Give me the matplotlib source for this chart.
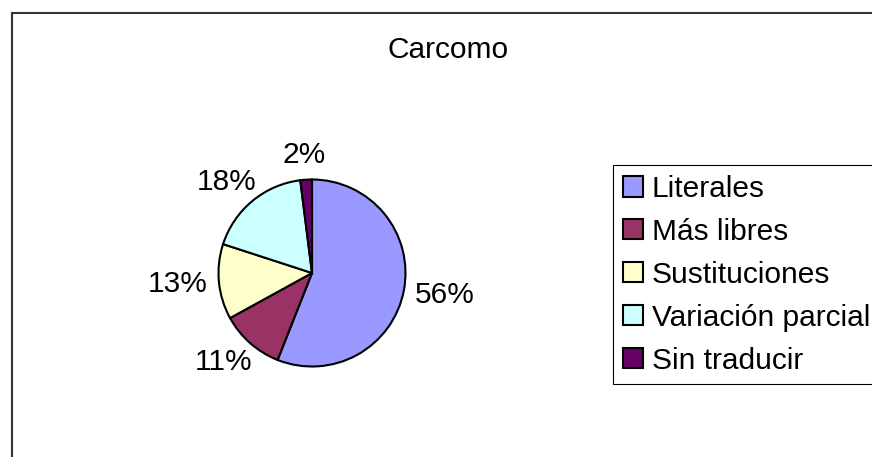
import numpy as np
import matplotlib
matplotlib.use("Agg")
import matplotlib.pyplot as plt
from matplotlib.patches import Rectangle

plt.rcParams['font.family'] = ['Liberation Sans', 'DejaVu Sans']

title = "Carcomo"
categories = ["Literales", "Más libres", "Sustituciones", "Variación parcial", "Sin traducir"]
values = [56, 11, 13, 18, 2]
colors = ["#9999FF", "#993366", "#FFFFCC", "#CCFFFF", "#660066"]

W, H, DPI = 872, 457, 100
fig = plt.figure(figsize=(W / DPI, H / DPI), dpi=DPI)
fig.patch.set_facecolor("white")

# chart frame (extends past right and bottom edges)
fig.add_artist(Rectangle((11.5 / W, -0.1), 1.2, (1 - 13 / H) + 0.1,
                         transform=fig.transFigure, fill=False,
                         edgecolor="#333333", lw=1.5))

# pie axes
R_px = 93.5
cx, cy = 312, 273
lim = 1.25
side = 2 * lim * R_px
ax = fig.add_axes([(cx - side / 2) / W, (H - cy - side / 2) / H, side / W, side / H])
ax.set_xlim(-lim, lim)
ax.set_ylim(-lim, lim)
ax.set_aspect("equal")
ax.axis("off")

wedges, _ = ax.pie(values, colors=colors, startangle=90, counterclock=False,
                   radius=1.0, wedgeprops=dict(edgecolor="black", linewidth=1.5))

fs = 21.5
total = float(sum(values))
label_r = 1.12
texts = []
angles = []
for w, v in zip(wedges, values):
    th = np.deg2rad((w.theta1 + w.theta2) / 2)
    angles.append(th)
    t = ax.text(label_r * np.cos(th), label_r * np.sin(th), f"{v / total * 100:.0f}%",
                ha="center", va="center", fontsize=fs, clip_on=False)
    texts.append(t)

fig.canvas.draw()
r = fig.canvas.get_renderer()
for t, th in zip(texts, angles):
    bb = t.get_window_extent(r)
    wd = bb.width / R_px
    hd = bb.height / R_px
    x, y = t.get_position()
    t.set_position((x + wd / 2 * np.cos(th), y + hd / 2 * np.sin(th)))

fig.text(448 / W, 1 - 50 / H, title, ha="center", va="center", fontsize=fs)

leg = fig.legend(wedges, categories, loc="upper left",
                 bbox_to_anchor=(613 / W, 1 - 165 / H), bbox_transform=fig.transFigure,
                 fontsize=fs, frameon=True, fancybox=False, shadow=False,
                 borderpad=0.33, borderaxespad=0, labelspacing=0.5,
                 handlelength=0.67, handleheight=0.67, handletextpad=0.3)
leg.get_frame().set_edgecolor("black")
leg.get_frame().set_linewidth(0.8)
leg.get_frame().set_alpha(1)

fig.savefig("out.png", dpi=DPI)
